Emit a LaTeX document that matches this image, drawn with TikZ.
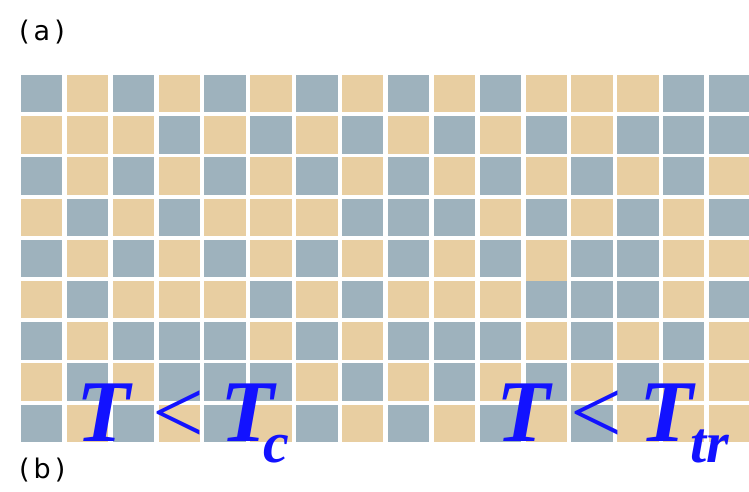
\documentclass[tikz,border=0pt]{standalone}
\usepackage{fontspec}
\setmainfont{Liberation Serif}
\newfontfamily\panelfont{DejaVu Sans}
\usetikzlibrary{positioning}

\definecolor{cell0}{HTML}{E8CEA1}
\definecolor{cell1}{HTML}{9EB2BD}
\definecolor{tempblue}{HTML}{1212FF}

\tikzset{
  panel/.style={anchor=base west, inner sep=0pt, font=\panelfont\fontsize{27}{27}\selectfont},
  bigsym/.style={anchor=base west, inner sep=0pt, text=tempblue, font=\fontsize{88}{88}\selectfont\bfseries\itshape},
  relsym/.style={anchor=base west, inner sep=0pt, text=tempblue, font=\fontsize{92}{92}\selectfont},
  subsym/.style={anchor=base west, inner sep=0pt, text=tempblue, font=\fontsize{58}{58}\selectfont\bfseries\itshape}
}

\begin{document}
\begin{tikzpicture}[x=1pt,y=-1pt]
        \useasboundingbox (0,0) rectangle (749,491);
        % lattice, 1 = grey-blue, 0 = sand
        \foreach \pattern [count=\j] in {
            {1,0,1,0,1,0,1,0,1,0,1,0,0,0,1,1},
            {0,0,0,1,0,1,0,1,0,1,0,1,0,1,1,1},
            {1,0,1,0,1,0,1,0,1,0,1,0,1,0,1,0},
            {0,1,0,1,0,0,0,1,1,1,0,1,0,1,0,1},
            {1,0,1,0,1,0,1,0,1,0,1,0,1,1,0,0},
            {0,1,0,0,0,1,0,1,0,0,0,1,1,1,0,1},
            {1,0,1,1,1,0,1,0,1,1,1,0,1,0,1,0},
            {0,1,0,1,1,1,0,1,0,1,0,1,0,1,0,0},
            {1,0,1,0,1,0,1,0,1,0,1,0,1,0,0,0}}
          \foreach \c [count=\i] in \pattern
            \fill[cell\c] ({21+45.87*(\i-1)},{75+41.2*(\j-1)}) rectangle +(41.3,37.4);
        % the sand cell that runs into the one below
        \fill[cell0] ({21+45.87*11},{75+41.2*4+37.4}) rectangle +(41.3,3.8);

        \node[panel] (pa) at (19,40) {(\kern4pt a\kern4pt)};
        \node[panel] (pb) at (19,478) {(\kern4pt b\kern4pt)};

        \node[bigsym] (t1) at (76,441.7) {T};
        \node[relsym] (lt1) at (152,443) {<};
        \node[bigsym] (tc) at (220,441.7) {T};
        \node[subsym] (c) at (263,462) {c};

        \node[bigsym] (t2) at (496,441.7) {T};
        \node[relsym] (lt2) at (570,443) {<};
        \node[bigsym] (ttr) at (639,441.7) {T};
        \node[subsym] (tr) at (690,462) {tr};
\end{tikzpicture}
\end{document}
